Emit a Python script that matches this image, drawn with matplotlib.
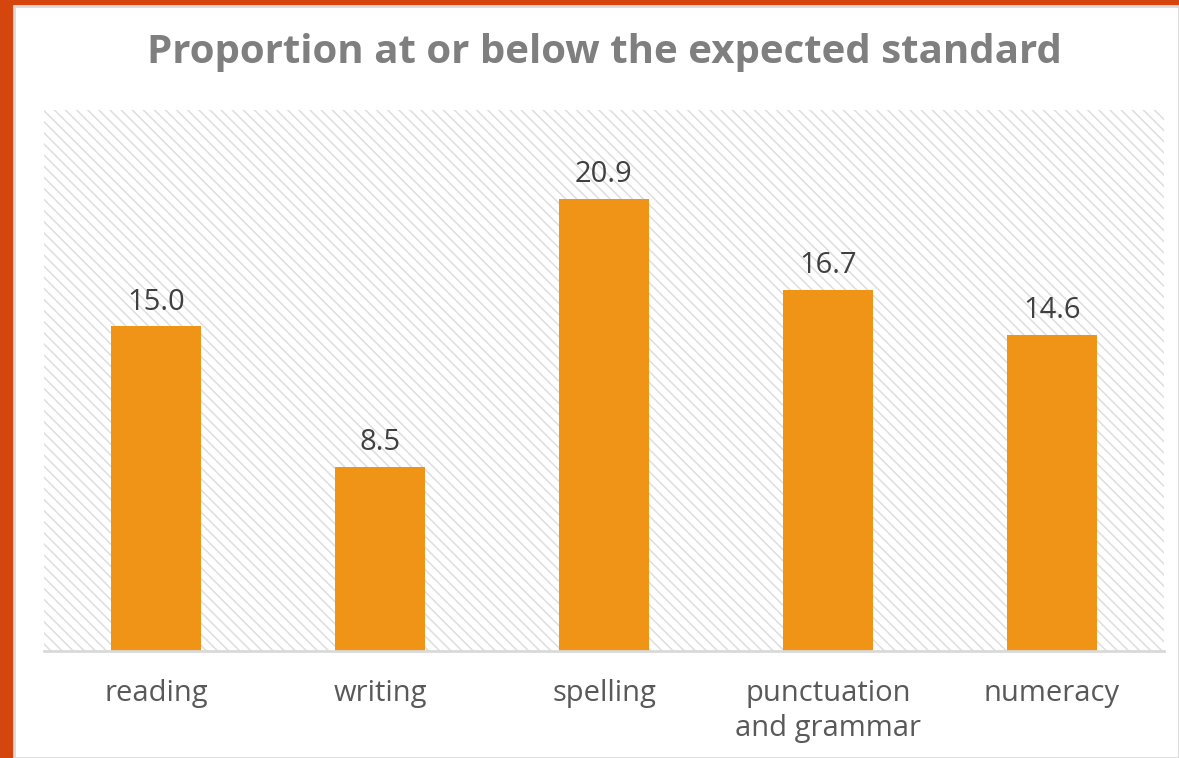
import matplotlib.pyplot as plt
from matplotlib.patches import Rectangle

plt.rcParams["font.family"] = ["Open Sans", "DejaVu Sans"]
plt.rcParams["hatch.color"] = "#dedede"
plt.rcParams["hatch.linewidth"] = 1.1

categories = ["reading", "writing", "spelling", "punctuation\nand grammar", "numeracy"]
values = [15.0, 8.5, 20.9, 16.7, 14.6]

W, H = 1179, 758
fig = plt.figure(figsize=(W / 100, H / 100), dpi=100, facecolor="#d5460e")

# white slide panel over the orange frame
panel = Rectangle((14 / W, 0), 1 - 14 / W, 1 - 6 / H, transform=fig.transFigure,
                  facecolor="white", edgecolor="#d9d9d9", linewidth=2, zorder=-5)
fig.patches.append(panel)

ax = fig.add_axes([44 / W, 1 - 651 / H, 1120 / W, 541 / H])
ax.set_zorder(2)
ax.set_facecolor("none")
bg = Rectangle((0, 0), 1, 1, transform=ax.transAxes, facecolor="white",
               hatch="\\\\\\", edgecolor="#dedede", linewidth=0, zorder=0)
ax.add_patch(bg)

x = range(len(categories))
bars = ax.bar(x, values, width=0.4, color="#f09418", zorder=2)

for xi, v in zip(x, values):
    ax.text(xi, v + 0.45, f"{v:.1f}", ha="center", va="bottom",
            fontsize=21, color="#404040")

ax.set_xlim(-0.5, len(categories) - 0.5)
ax.set_ylim(0, 25)
ax.set_xticks(list(x))
ax.set_xticklabels(categories, fontsize=21, color="#595959", linespacing=1.3)
ax.tick_params(axis="x", length=0, pad=20)
ax.set_yticks([])

for side in ["top", "right", "left"]:
    ax.spines[side].set_visible(False)
ax.spines["bottom"].set_color("#d9d9d9")
ax.spines["bottom"].set_linewidth(2)
ax.spines["bottom"].set_zorder(3)

fig.text(604 / W, 1 - 53 / H, "Proportion at or below the expected standard",
         ha="center", va="center", fontsize=29, fontweight="bold", color="#7f7f7f")

fig.savefig("out.png", dpi=100, facecolor=fig.get_facecolor())
